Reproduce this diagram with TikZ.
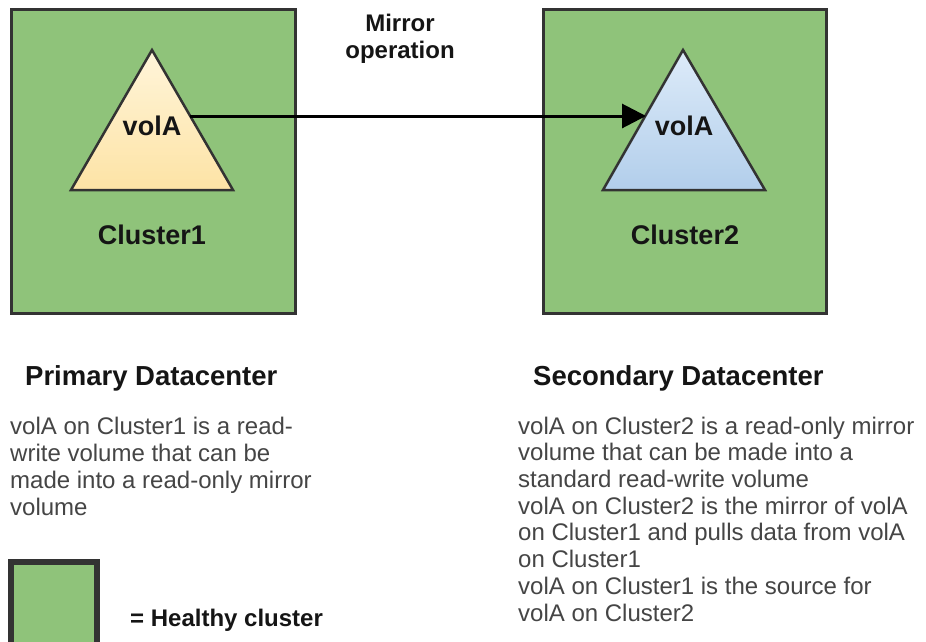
\documentclass[tikz,border=0pt]{standalone}
\usepackage{fontspec}
\setmainfont{Liberation Sans}
\usetikzlibrary{arrows.meta}
\definecolor{boxgreen}{HTML}{8FC37A}
\definecolor{edgegray}{HTML}{333333}
\definecolor{ytop}{HTML}{FFF5DA}
\definecolor{ybot}{HTML}{FDE3A5}
\definecolor{btop}{HTML}{DDEBF9}
\definecolor{bbot}{HTML}{B2CEEB}
\definecolor{bodytext}{HTML}{454545}
\definecolor{boldtext}{HTML}{151515}
\begin{document}
\begin{tikzpicture}[x=1pt,y=-1pt,
  cluster/.style={draw=edgegray, fill=boxgreen, line width=3pt},
  vol/.style={draw=edgegray, line width=2.5pt, line join=miter},
  lbl/.style={font=\fontsize{27}{30}\selectfont\bfseries, text=boldtext, inner sep=0pt},
  head/.style={font=\fontsize{27.5}{30}\selectfont\bfseries, text=boldtext, inner sep=0pt},
  small/.style={font=\fontsize{24}{26.5}\selectfont\bfseries, text=boldtext, inner sep=0pt},
  body/.style={font=\fontsize{24}{26.7}\selectfont, text=bodytext, align=left, inner sep=0pt},
  mirrorarrow/.style={draw=black, line width=3pt, -{Triangle[length=24pt,width=24pt]}}]
\useasboundingbox[fill=white] (0,0) rectangle (926,642);

% clusters
\draw[cluster] (11,10) rectangle (295,313);
\draw[cluster] (543,10) rectangle (826,313);

% volumes
\draw[vol, top color=ytop, bottom color=ybot] (152,50) -- (233,190) -- (71,190) -- cycle;
\draw[vol, top color=btop, bottom color=bbot] (683,50) -- (765,190) -- (603,190) -- cycle;

\node[lbl, anchor=base] (v1) at (152,135) {volA};
\node[lbl, anchor=base] (v2) at (684,135) {volA};
\node[lbl, anchor=base] (c1) at (152,244) {Cluster1};
\node[lbl, anchor=base] (c2) at (685,244) {Cluster2};

% mirror operation
\coordinate (src) at (190,116);
\coordinate (dst) at (646,116);
\draw[mirrorarrow] (src) -- (dst);
\node[small, align=center, anchor=base] (mo) at (400,58.5) {Mirror\\operation};

% texts
\node[head, anchor=base west] (h1) at (25,385) {Primary Datacenter};
\node[head, anchor=base west] (h2) at (533,385) {Secondary Datacenter};
\node[body, anchor=base west] (t1) at (10,515) {volA on Cluster1 is a read-\\write volume that can be\\made into a read-only mirror\\volume};
\node[body, anchor=base west] (t2) at (518,621) {volA on Cluster2 is a read-only mirror\\volume that can be made into a\\standard read-write volume\\volA on Cluster2 is the mirror of volA\\on Cluster1 and pulls data from volA\\on Cluster1\\volA on Cluster1 is the source for\\volA on Cluster2};

% legend
\begin{scope}
\clip (0,0) rectangle (926,642);
\draw[draw=edgegray, fill=boxgreen, line width=5.7pt] (11.3,561.7) rectangle (97,648);
\end{scope}
\node[small, anchor=base west] (lg) at (130,626) {= Healthy cluster};
\end{tikzpicture}
\end{document}
